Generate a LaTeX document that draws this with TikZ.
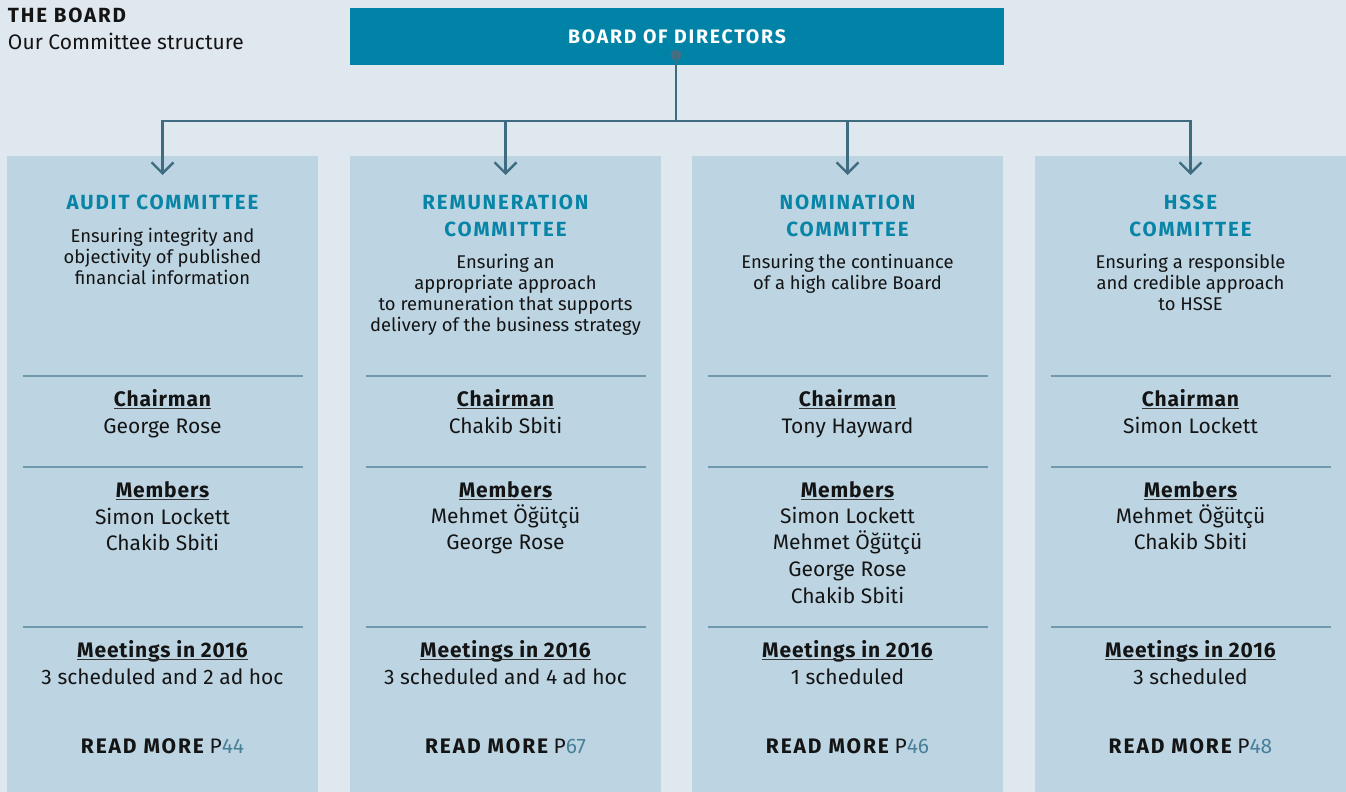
\documentclass[tikz,border=0pt]{standalone}
\usepackage{fontspec}
\setmainfont{Fira Sans}
\usetikzlibrary{arrows.meta}

\definecolor{pagebg}{HTML}{DFE7EF}
\definecolor{colfill}{HTML}{BDD5E3}
\definecolor{boardfill}{HTML}{0083A7}
\definecolor{connc}{HTML}{3F6C80}
\definecolor{dotc}{HTML}{456F82}
\definecolor{headc}{HTML}{0784A6}
\definecolor{sepc}{HTML}{7099AE}
\definecolor{pagec}{HTML}{4A7F98}
\definecolor{inkc}{HTML}{141414}

% tracked bold capitals
\newcommand\capsb[1]{{\bfseries\addfontfeature{LetterSpace=9}#1}}
% bold label with a thick rule a little below the baseline
\newcommand\ulabel[1]{\setbox0\hbox{\bfseries\addfontfeature{LetterSpace=4}#1}\rlap{\copy0}\textcolor{inkc!85}{\rule[-3pt]{\wd0}{1.3pt}}}

\tikzset{
  every node/.style={inner sep=0pt, outer sep=0pt},
  colbox/.style={fill=colfill, anchor=north west, minimum width=311pt, minimum height=636pt},
  txt/.style={anchor=base, font=\fontsize{21}{25}\selectfont, text=inkc},
  desc/.style={anchor=base, font=\fontsize{18.4}{21}\selectfont, text=inkc},
  head/.style={anchor=base, font=\fontsize{20.5}{24}\selectfont, text=headc},
  sepline/.style={draw=sepc, line width=1.3pt},
  conn/.style={draw=connc, line width=2.4pt},
  arr/.style={conn, -{Straight Barb[width=22pt,length=11pt,line width=2.4pt]}},
}

\begin{document}
\begin{tikzpicture}[x=1pt, y=-1pt]
  \fill[pagebg] (0,0) rectangle (1346,792);
  \useasboundingbox (0,0) rectangle (1346,792);

  % heading at the top left
  \node[anchor=base west, font=\fontsize{20.5}{24}\selectfont, text=inkc] (title) at (8,23) {\capsb{THE BOARD}};
  \node[anchor=base west, font=\fontsize{21}{25}\selectfont, text=inkc] (subtitle) at (8,49) {Our Committee structure};

  % board box
  \node[fill=boardfill, anchor=north west, minimum width=654pt, minimum height=57pt] (board) at (350,8) {};
  \node[anchor=base, font=\fontsize{19.5}{23}\selectfont, text=white] (boardtxt) at (677,44) {\capsb{BOARD OF DIRECTORS}};

  % committee columns
  \node[colbox] (colA) at (7,156) {};
  \node[colbox] (colB) at (350,156) {};
  \node[colbox] (colC) at (692,156) {};
  \node[colbox] (colD) at (1035,156) {};

  % connectors
  \node[circle, fill=dotc, minimum size=11pt] (dot) at (676,55) {};
  \coordinate (bus) at (676,121);
  \coordinate (tipA) at (162.5,175);
  \coordinate (tipB) at (505.5,175);
  \coordinate (tipC) at (847.5,175);
  \coordinate (tipD) at (1190.5,175);
  \draw[conn] (dot.center) -- (bus);
  \draw[arr] (bus) -| (tipA);
  \draw[arr] (bus) -| (tipB);
  \draw[arr] (bus) -| (tipC);
  \draw[arr] (bus) -| (tipD);

  % separators and common labels in every column
  \foreach \c/\x in {A/162.5, B/505.5, C/847.5, D/1190.5} {
    \foreach \y in {376, 467, 627}
      \draw[sepline] (\x-140,\y) -- (\x+140,\y);
    \node[txt] (\c-chair) at (\x,406) {\ulabel{Chairman}};
    \node[txt] (\c-members) at (\x,497) {\ulabel{Members}};
    \node[txt] (\c-meet) at (\x,657) {\ulabel{Meetings in 2016}};
  }

  % Audit Committee
  \node[head] (A-h1) at (162.5,209) {\capsb{AUDIT COMMITTEE}};
  \foreach \t [count=\i] in {Ensuring integrity and, objectivity of published, financial information}
    \node[desc] (A-d\i) at (162.5,{242+21*(\i-1)}) {\t};
  \node[txt] (A-cname) at (162.5,433) {George Rose};
  \foreach \t [count=\i] in {Simon Lockett, Chakib Sbiti}
    \node[txt] (A-m\i) at (162.5,{524+26.8*(\i-1)}) {\t};
  \node[txt] (A-mval) at (162.5,684) {3 scheduled and 2 ad hoc};
  \node[txt] (A-more) at (162.5,753) {\capsb{READ MORE} P\textcolor{pagec}{44}};

  % Remuneration Committee
  \node[head] (B-h1) at (505.5,209) {\capsb{REMUNERATION}};
  \node[head] (B-h2) at (505.5,236) {\capsb{COMMITTEE}};
  \foreach \t [count=\i] in {Ensuring an, appropriate approach, to remuneration that supports, delivery of the business strategy}
    \node[desc] (B-d\i) at (505.5,{268+21.3*(\i-1)}) {\t};
  \node[txt] (B-cname) at (505.5,433) {Chakib Sbiti};
  \foreach \t [count=\i] in {Mehmet Öğütçü, George Rose}
    \node[txt] (B-m\i) at (505.5,{523+26.8*(\i-1)}) {\t};
  \node[txt] (B-mval) at (505.5,684) {3 scheduled and 4 ad hoc};
  \node[txt] (B-more) at (505.5,753) {\capsb{READ MORE} P\textcolor{pagec}{67}};

  % Nomination Committee
  \node[head] (C-h1) at (847.5,209) {\capsb{NOMINATION}};
  \node[head] (C-h2) at (847.5,236) {\capsb{COMMITTEE}};
  \foreach \t [count=\i] in {Ensuring the continuance, of a high calibre Board}
    \node[desc] (C-d\i) at (847.5,{268+21.3*(\i-1)}) {\t};
  \node[txt] (C-cname) at (847.5,433) {Tony Hayward};
  \foreach \t [count=\i] in {Simon Lockett, Mehmet Öğütçü, George Rose, Chakib Sbiti}
    \node[txt] (C-m\i) at (847.5,{523+26.7*(\i-1)}) {\t};
  \node[txt] (C-mval) at (847.5,684) {1 scheduled};
  \node[txt] (C-more) at (847.5,753) {\capsb{READ MORE} P\textcolor{pagec}{46}};

  % HSSE Committee
  \node[head] (D-h1) at (1190.5,209) {\capsb{HSSE}};
  \node[head] (D-h2) at (1190.5,236) {\capsb{COMMITTEE}};
  \foreach \t [count=\i] in {Ensuring a responsible, and credible approach, to HSSE}
    \node[desc] (D-d\i) at (1190.5,{268+21.3*(\i-1)}) {\t};
  \node[txt] (D-cname) at (1190.5,433) {Simon Lockett};
  \foreach \t [count=\i] in {Mehmet Öğütçü, Chakib Sbiti}
    \node[txt] (D-m\i) at (1190.5,{523+26.8*(\i-1)}) {\t};
  \node[txt] (D-mval) at (1190.5,684) {3 scheduled};
  \node[txt] (D-more) at (1190.5,753) {\capsb{READ MORE} P\textcolor{pagec}{48}};
\end{tikzpicture}
\end{document}
